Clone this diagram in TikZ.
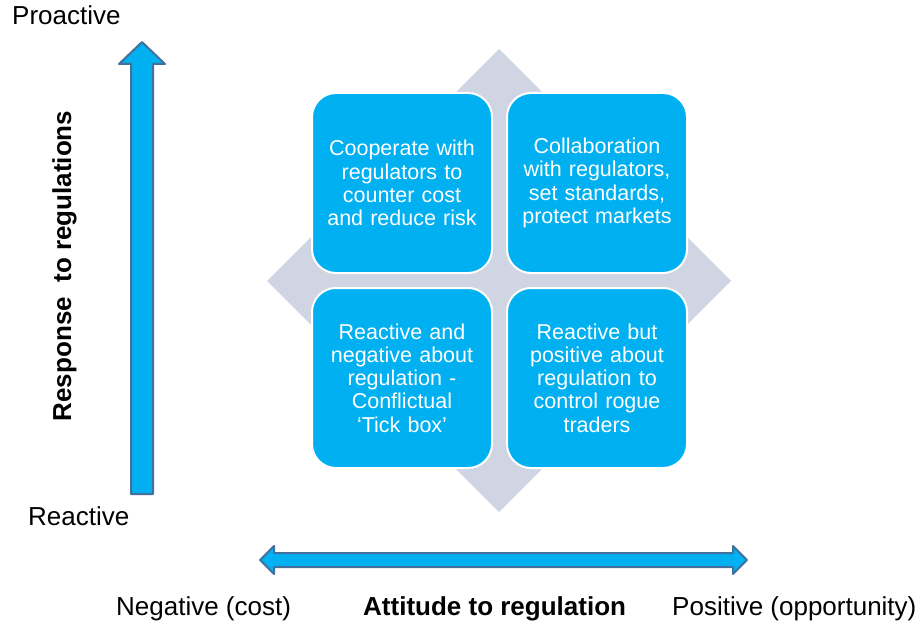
\documentclass[tikz,border=0pt]{standalone}
\usepackage{fontspec}
\setmainfont{Liberation Sans}
\usepackage{tikz}
\tikzset{>=latex}
\definecolor{quadblue}{HTML}{00B0F0}
\definecolor{diamondgrey}{HTML}{CFD5E3}
\definecolor{arrowedge}{HTML}{41719C}
\tikzset{
	quadbox/.style={rounded corners=24pt,fill=quadblue,draw=white,line width=2pt,minimum width=180pt,minimum height=180pt,text width=176pt,align=center,text=white,font=\fontsize{21.5}{23.3}\selectfont,inner sep=0pt},
	axislabel/.style={anchor=base west,inner sep=0pt,font=\fontsize{26}{28}\selectfont},
	blockarrow/.style={fill=quadblue,draw=arrowedge,line width=2pt,line join=round}
}

\begin{document}
\begin{tikzpicture}[x=1pt,y=-1pt]
	\useasboundingbox (0,0) rectangle (920,628);

	\fill [diamondgrey] (499,49) -- (731,281) -- (499,512) -- (267,281) -- cycle;

	\node [quadbox] (coop) at (402,183) {Cooperate with\\ regulators to\\ counter cost\\ and reduce risk};
	\node [quadbox] (collab) at (597,183) {Collaboration\\ with regulators,\\ set standards,\\ protect markets};
	\node [quadbox] (conflict) at (402,378) {Reactive and\\ negative about\\ regulation -\\ Conflictual\\ `Tick box'};
	\node [quadbox] (rogue) at (597,378) {Reactive but\\ positive about\\ regulation to\\ control rogue\\ traders};

	\draw [blockarrow] (131,494) -- (131,64) -- (119,64) -- (142,42) -- (165,64) -- (153,64) -- (153,494) -- cycle;
	\draw [blockarrow] (260,560) -- (274,546) -- (274,553) -- (733,553) -- (733,546) -- (747,560) -- (733,574) -- (733,567) -- (274,567) -- (274,574) -- cycle;

	\node [axislabel] (proactive) at (12,25) {Proactive};
	\node [axislabel] (reactive) at (28,525) {Reactive};
	\node [axislabel] (negative) at (116,615) {Negative (cost)};
	\node [axislabel,font=\fontsize{26}{28}\selectfont\bfseries] (attitude) at (363,615) {Attitude to regulation};
	\node [axislabel] (positive) at (672,615) {Positive (opportunity)};
	\node [axislabel,anchor=base,rotate=90,font=\fontsize{26}{28}\selectfont\bfseries] (response) at (71,266) {Response\ \ to regulations};
\end{tikzpicture}
\end{document}
